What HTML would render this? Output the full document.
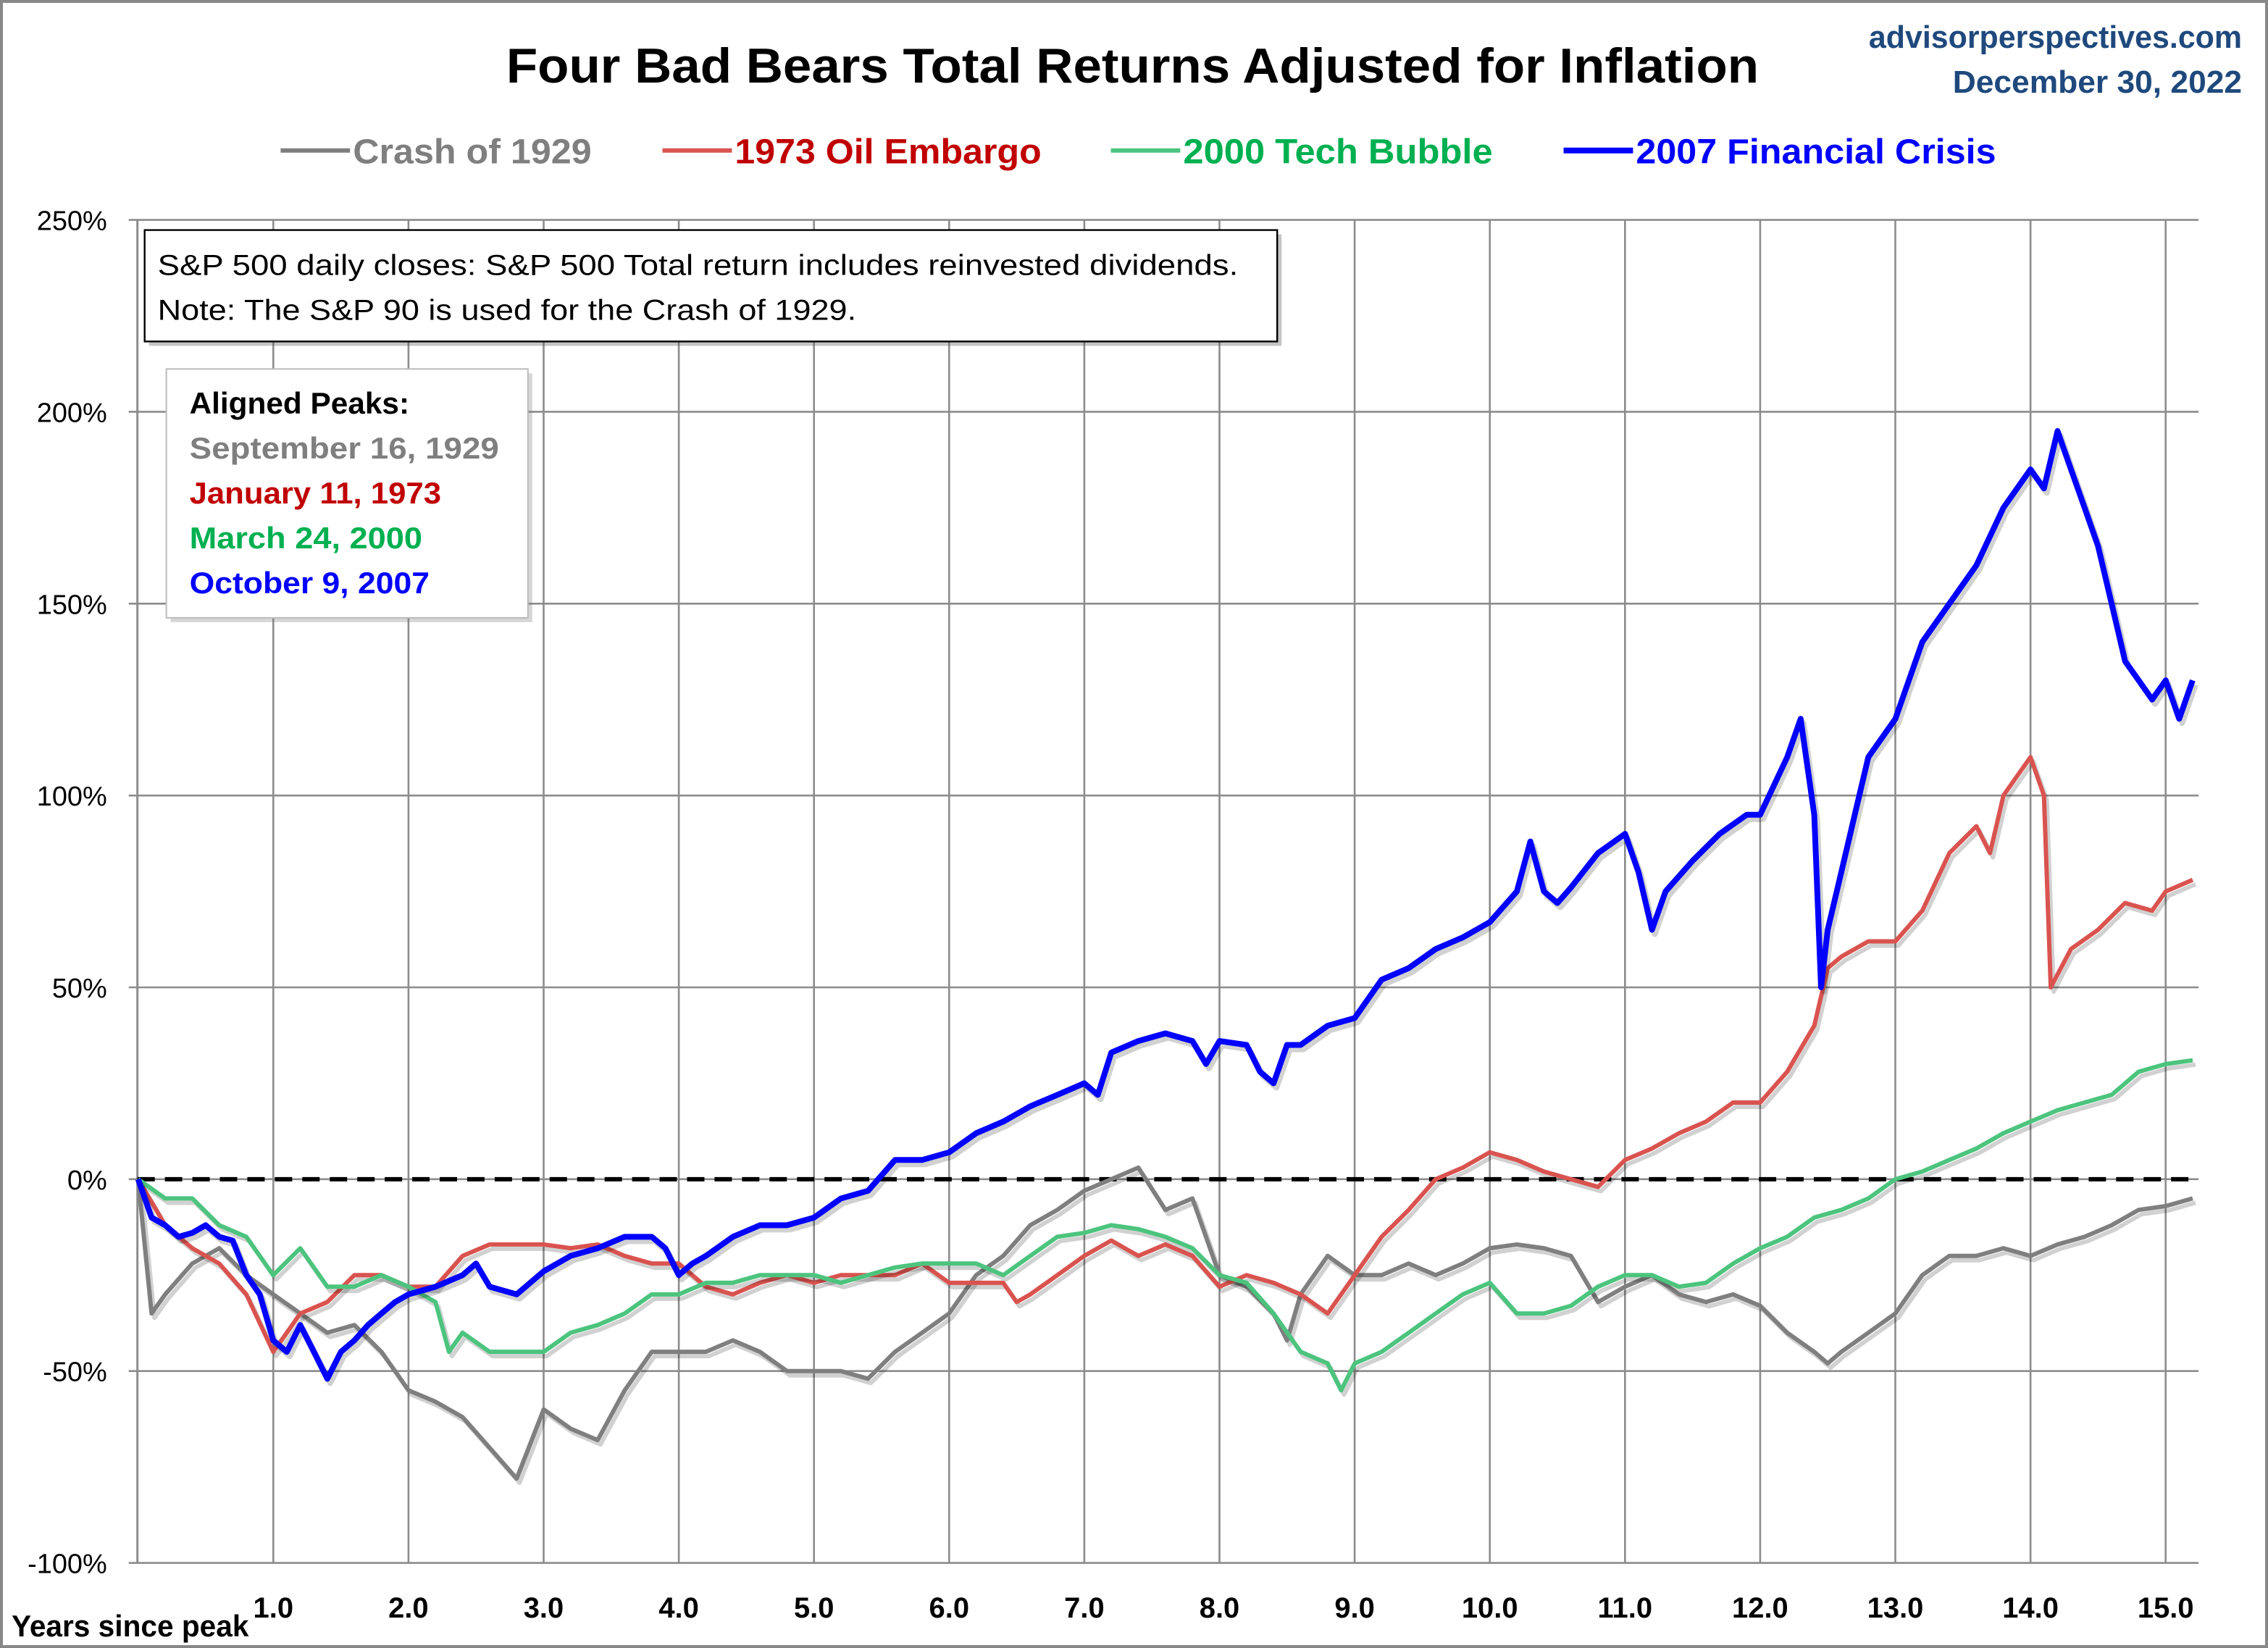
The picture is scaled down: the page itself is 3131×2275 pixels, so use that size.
<!DOCTYPE html>
<html><head><meta charset="utf-8"><title>Four Bad Bears</title>
<style>html,body{margin:0;padding:0;background:#fff}svg{display:block}text{font-family:"Liberation Sans",sans-serif}</style></head>
<body>
<svg id="chart" width="3131" height="2275" viewBox="0 0 1568 1139" preserveAspectRatio="none" xmlns="http://www.w3.org/2000/svg">
<rect x="1" y="1" width="1566" height="1137" fill="#fff" stroke="#888" stroke-width="2"/>
<text x="783" y="57" text-anchor="middle" font-size="34" font-weight="bold" textLength="866" lengthAdjust="spacingAndGlyphs">Four Bad Bears Total Returns Adjusted for Inflation</text>
<text x="1550" y="33" text-anchor="end" font-size="22" font-weight="bold" fill="#1f497d" textLength="258" lengthAdjust="spacingAndGlyphs">advisorperspectives.com</text>
<text x="1550" y="64" text-anchor="end" font-size="22" font-weight="bold" fill="#1f497d" textLength="200" lengthAdjust="spacingAndGlyphs">December 30, 2022</text>
<g id="legend"></g>
<g id="grid"></g>
<g id="series"></g>
<g>
<rect x="103" y="162" width="783" height="77" fill="#555" opacity="0.35"/>
<rect x="100" y="159" width="783" height="77" fill="#fff" stroke="#000" stroke-width="1.2"/>
<text x="109" y="190" font-size="20" textLength="747" lengthAdjust="spacingAndGlyphs">S&amp;P 500 daily closes: S&amp;P 500 Total return includes reinvested dividends.</text>
<text x="109" y="221" font-size="20" textLength="483" lengthAdjust="spacingAndGlyphs">Note: The S&amp;P 90 is used for the Crash of 1929.</text>
</g>
<g>
<rect x="118" y="258" width="250" height="172" fill="#777" opacity="0.3"/>
<rect x="115" y="255" width="250" height="172" fill="#fff" stroke="#bbb" stroke-width="1"/>
<text x="131" y="286" font-size="21" font-weight="bold" textLength="152" lengthAdjust="spacingAndGlyphs">Aligned Peaks:</text>
<text x="131" y="317" font-size="21" font-weight="bold" fill="#7f7f7f" textLength="214" lengthAdjust="spacingAndGlyphs">September  16, 1929</text>
<text x="131" y="348" font-size="21" font-weight="bold" fill="#c00000" textLength="174" lengthAdjust="spacingAndGlyphs">January 11, 1973</text>
<text x="131" y="379" font-size="21" font-weight="bold" fill="#00b050" textLength="161" lengthAdjust="spacingAndGlyphs">March 24, 2000</text>
<text x="131" y="410" font-size="21" font-weight="bold" fill="#0000ff" textLength="166" lengthAdjust="spacingAndGlyphs">October 9, 2007</text>
</g>
<text x="8" y="1131" font-size="21" font-weight="bold" textLength="164" lengthAdjust="spacingAndGlyphs">Years since peak</text>
</svg>
<script>
const yTicks=[250,200,150,100,50,0,-50,-100];
const yTickLabels=["250%","200%","150%","100%","50%","0%","-50%","-100%"];
const xTicks=[1,2,3,4,5,6,7,8,9,10,11,12,13,14,15];
const xTickLabels=["1.0","2.0","3.0","4.0","5.0","6.0","7.0","8.0","9.0","10.0","11.0","12.0","13.0","14.0","15.0"];
const seriesNames=["Crash of 1929","1973 Oil Embargo","2000 Tech Bubble","2007 Financial Crisis"];
const t1929=[0,0.1,0.2,0.4,0.6,0.8,1.0,1.2,1.4,1.6,1.8,1.9,2.0,2.2,2.4,2.6,2.8,3.0,3.2,3.4,3.6,3.8,4.0,4.2,4.4,4.6,4.8,5.0,5.2,5.4,5.6,5.8,6.0,6.2,6.4,6.6,6.8,7.0,7.2,7.4,7.6,7.8,8.0,8.2,8.4,8.5,8.6,8.8,9.0,9.2,9.4,9.6,9.8,10.0,10.2,10.4,10.6,10.8,11.0,11.2,11.4,11.6,11.8,12.0,12.2,12.4,12.5,12.6,12.8,13.0,13.2,13.4,13.6,13.8,14.0,14.2,14.4,14.6,14.8,15.0,15.2];
const v1929=[0,-35,-30,-22,-18,-25,-30,-35,-40,-38,-45,-50,-55,-58,-62,-70,-78,-60,-65,-68,-55,-45,-45,-45,-42,-45,-50,-50,-50,-52,-45,-40,-35,-25,-20,-12,-8,-3,0,3,-8,-5,-25,-28,-35,-42,-30,-20,-25,-25,-22,-25,-22,-18,-17,-18,-20,-32,-28,-25,-30,-32,-30,-33,-40,-45,-48,-45,-40,-35,-25,-20,-20,-18,-20,-17,-15,-12,-8,-7,-5];
const t1973=[0,0.2,0.4,0.6,0.8,1.0,1.1,1.2,1.4,1.6,1.8,2.0,2.2,2.4,2.6,2.8,3.0,3.2,3.4,3.6,3.8,4.0,4.2,4.4,4.6,4.8,5.0,5.2,5.4,5.6,5.8,6.0,6.2,6.4,6.5,6.6,6.8,7.0,7.2,7.4,7.6,7.8,7.9,8.0,8.2,8.4,8.6,8.8,9.0,9.2,9.4,9.6,9.8,10.0,10.2,10.4,10.6,10.8,11.0,11.2,11.4,11.6,11.8,12.0,12.2,12.4,12.5,12.6,12.8,13.0,13.2,13.4,13.6,13.7,13.8,14.0,14.1,14.15,14.3,14.5,14.7,14.9,15.0,15.2];
const v1973=[0,-12,-18,-22,-30,-45,-40,-35,-32,-25,-25,-28,-28,-20,-17,-17,-17,-18,-17,-20,-22,-22,-28,-30,-27,-25,-27,-25,-25,-25,-22,-27,-27,-27,-32,-30,-25,-20,-16,-20,-17,-20,-24,-28,-25,-27,-30,-35,-25,-15,-8,0,3,7,5,2,0,-2,5,8,12,15,20,20,28,40,55,58,62,62,70,85,92,85,100,110,100,50,60,65,72,70,75,78];
const t2000=[0,0.2,0.4,0.6,0.8,1.0,1.2,1.4,1.6,1.8,2.0,2.2,2.3,2.4,2.6,2.8,3.0,3.2,3.4,3.6,3.8,4.0,4.2,4.4,4.6,4.8,5.0,5.2,5.4,5.6,5.8,6.0,6.2,6.4,6.6,6.8,7.0,7.2,7.4,7.6,7.8,8.0,8.2,8.4,8.6,8.8,8.9,9.0,9.2,9.4,9.6,9.8,10.0,10.2,10.4,10.6,10.8,11.0,11.2,11.4,11.6,11.8,12.0,12.2,12.4,12.6,12.8,13.0,13.2,13.4,13.6,13.8,14.0,14.2,14.4,14.6,14.8,15.0,15.2];
const v2000=[0,-5,-5,-12,-15,-25,-18,-28,-28,-25,-28,-32,-45,-40,-45,-45,-45,-40,-38,-35,-30,-30,-27,-27,-25,-25,-25,-27,-25,-23,-22,-22,-22,-25,-20,-15,-14,-12,-13,-15,-18,-25,-27,-35,-45,-48,-55,-48,-45,-40,-35,-30,-27,-35,-35,-33,-28,-25,-25,-28,-27,-22,-18,-15,-10,-8,-5,0,2,5,8,12,15,18,20,22,28,30,31];
const t2007=[0,0.1,0.2,0.3,0.4,0.5,0.6,0.7,0.8,0.9,1.0,1.1,1.2,1.3,1.4,1.5,1.6,1.7,1.8,1.9,2.0,2.2,2.4,2.5,2.6,2.8,3.0,3.2,3.4,3.6,3.8,3.9,4.0,4.1,4.2,4.4,4.6,4.8,5.0,5.2,5.4,5.6,5.8,6.0,6.2,6.4,6.6,6.8,7.0,7.1,7.2,7.4,7.6,7.8,7.9,8.0,8.2,8.3,8.4,8.5,8.6,8.8,9.0,9.2,9.4,9.6,9.8,10.0,10.2,10.3,10.4,10.5,10.6,10.8,11.0,11.1,11.2,11.3,11.5,11.7,11.9,12.0,12.2,12.3,12.4,12.45,12.5,12.6,12.7,12.8,13.0,13.2,13.4,13.6,13.8,13.9,14.0,14.1,14.2,14.3,14.4,14.5,14.6,14.7,14.8,14.9,15.0,15.1,15.2];
const v2007=[0,-10,-12,-15,-14,-12,-15,-16,-25,-30,-42,-45,-38,-45,-52,-45,-42,-38,-35,-32,-30,-28,-25,-22,-28,-30,-24,-20,-18,-15,-15,-18,-25,-22,-20,-15,-12,-12,-10,-5,-3,5,5,7,12,15,19,22,25,22,33,36,38,36,30,36,35,28,25,35,35,40,42,52,55,60,63,67,75,88,75,72,76,85,90,80,65,75,83,90,95,95,110,120,95,50,65,80,95,110,120,140,150,160,175,180,185,180,195,185,175,165,150,135,130,125,130,120,130];

const X0=95.5, XS=93.45, Y0=815, YS=2.652;
const xScale=t=>X0+t*XS;
const yScale=v=>Y0-v*YS;
const NS="http://www.w3.org/2000/svg";
const svg=document.getElementById('chart');
function mk(tag,attrs,parent){const e=document.createElementNS(NS,tag);for(const k in attrs)e.setAttribute(k,attrs[k]);parent.appendChild(e);return e;}
const grid=document.getElementById('grid');
const L=95, R=1520;
yTicks.forEach((v,i)=>{
  const ln=mk('line',{x1:L-6,x2:R,y1:yScale(v),y2:yScale(v),stroke:'#8c8c8c','stroke-width':1.3},grid);
  
  
  const tx=mk('text',{x:74,y:yScale(v)+7,'text-anchor':'end','font-size':19},grid);
  tx.textContent=yTickLabels[i];
  
  
});
xTicks.forEach((t,i)=>{
  const ln=mk('line',{x1:xScale(t),x2:xScale(t),y1:yScale(250),y2:yScale(-100),stroke:'#8c8c8c','stroke-width':1.3},grid);
  
  
  const tx=mk('text',{x:xScale(t),y:1118,'text-anchor':'middle','font-size':20,'font-weight':'bold'},grid);
  tx.textContent=xTickLabels[i];
  
  
});
const ax=mk('line',{x1:L,x2:L,y1:yScale(250),y2:yScale(-100),stroke:'#8c8c8c','stroke-width':1.5},grid);


const zl=mk('line',{x1:L,x2:R,y1:yScale(0),y2:yScale(0),stroke:'#000','stroke-width':3,'stroke-dasharray':'12,7'},grid);



const sg=document.getElementById('series');
const defs=[[t1929,v1929,'#7f7f7f',3,'line-1929'],[t1973,v1973,'#d9534f',3,'line-1973'],[t2000,v2000,'#4cc47e',3,'line-2000'],[t2007,v2007,'#0000ff',4,'line-2007']];
defs.forEach(d=>{
  const pts=d[0].map((t,i)=>xScale(t).toFixed(1)+','+yScale(d[1][i]).toFixed(1)).join(' ');
  const sh=mk('polyline',{points:pts,fill:'none',stroke:'#000','stroke-opacity':0.18,'stroke-width':d[3],'stroke-linejoin':'round',transform:'translate(2,3)'},sg);
  
  
  const p=mk('polyline',{points:pts,fill:'none',stroke:d[2],'stroke-width':d[3],'stroke-linejoin':'round'},sg);
  
  
});

const lg=document.getElementById('legend');
const legendColors=['#7f7f7f','#d9534f','#4cc47e','#0000ff'];
const legendText=['#7f7f7f','#c00000','#00b050','#0000ff'];
const legendX=[194,458,768,1081];
const legendW=[165,212,214,249];
seriesNames.forEach((n,i)=>{
  const ln=mk('line',{x1:legendX[i],x2:legendX[i]+48,y1:104,y2:104,stroke:legendColors[i],'stroke-width':i==3?4:3},lg);
  
  
  const tx=mk('text',{x:legendX[i]+50,y:113,'font-size':24,'font-weight':'bold',fill:legendText[i],textLength:legendW[i],lengthAdjust:'spacingAndGlyphs'},lg);
  tx.textContent=n;
  
  
});
</script>
</body></html>
